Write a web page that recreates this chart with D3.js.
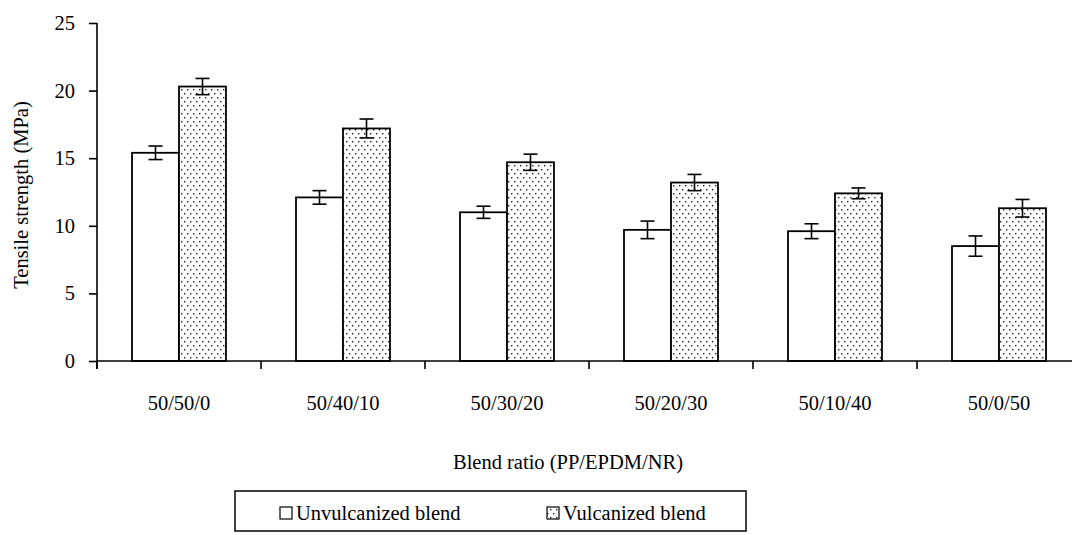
<!DOCTYPE html>
<html>
<head>
<meta charset="utf-8">
<script src="https://cdn.jsdelivr.net/npm/d3@7"></script>
<style>
  body { margin: 0; background: #fff; }
  text { font-family: "Liberation Serif", "Times New Roman", serif; fill: #000; }
</style>
</head>
<body>
<svg id="chart" width="1072" height="535"></svg>
<script>
const categories = ["50/50/0", "50/40/10", "50/30/20", "50/20/30", "50/10/40", "50/0/50"];
const seriesNames = ["Unvulcanized blend", "Vulcanized blend"];
const unvulcanized = [15.4, 12.1, 11.0, 9.7, 9.6, 8.5];
const unvulcanizedErr = [0.5, 0.5, 0.45, 0.65, 0.55, 0.75];
const vulcanized = [20.3, 17.2, 14.7, 13.2, 12.4, 11.3];
const vulcanizedErr = [0.6, 0.7, 0.6, 0.6, 0.4, 0.65];
const yTicks = [0, 5, 10, 15, 20, 25];

const svg = d3.select("#chart");

// left / right edge of plot, baseline and top
const X0 = 97, X1 = 1081, Y0 = 361, YT = 23;
const FS = 20.5;

const defs = svg.append("defs");
const pat = defs.append("pattern")
  .attr("id", "dots")
  .attr("patternUnits", "userSpaceOnUse")
  .attr("width", 6).attr("height", 8);
pat.append("rect").attr("width", 6).attr("height", 8).attr("fill", "#fff");
pat.append("rect").attr("x", 1).attr("y", 1).attr("width", 1.4).attr("height", 1.4).attr("fill", "#222");
pat.append("rect").attr("x", 4).attr("y", 5).attr("width", 1.4).attr("height", 1.4).attr("fill", "#222");

const y = d3.scaleLinear().domain([0, 25]).range([Y0, YT]);
const x = d3.scaleBand().domain(categories).range([X0, X1])
  .paddingInner(0.427).paddingOuter(0.2135);
const xs = d3.scaleBand().domain(seriesNames).range([0, x.bandwidth()]);

const data = categories.map((c, i) => [
  { cat: c, s: seriesNames[0], v: unvulcanized[i], e: unvulcanizedErr[i] },
  { cat: c, s: seriesNames[1], v: vulcanized[i], e: vulcanizedErr[i] }
]).flat();

// bars
svg.append("g").selectAll("rect")
  .data(data)
  .enter()
  .append("rect")
  .attr("x", d => x(d.cat) + xs(d.s))
  .attr("y", d => y(d.v))
  .attr("width", xs.bandwidth())
  .attr("height", d => y(0) - y(d.v))
  .attr("fill", d => d.s === seriesNames[0] ? "#fff" : "url(#dots)")
  .attr("stroke", "#000")
  .attr("stroke-width", 1.8);

// error bars
const eb = svg.append("g").attr("stroke", "#000").attr("stroke-width", 1.6);
data.forEach(d => {
  const cx = x(d.cat) + xs(d.s) + xs.bandwidth() / 2;
  eb.append("line").attr("x1", cx).attr("x2", cx).attr("y1", y(d.v + d.e)).attr("y2", y(d.v - d.e));
  eb.append("line").attr("x1", cx - 7).attr("x2", cx + 7).attr("y1", y(d.v + d.e)).attr("y2", y(d.v + d.e));
  eb.append("line").attr("x1", cx - 7).attr("x2", cx + 7).attr("y1", y(d.v - d.e)).attr("y2", y(d.v - d.e));
});

// y axis
const yAxis = svg.append("g")
  .attr("transform", `translate(${X0},0)`)
  .call(d3.axisLeft(y).tickValues(yTicks).tickSizeOuter(0).tickSize(8).tickPadding(14));
yAxis.select(".domain").attr("stroke-width", 1.6).attr("d", `M0,${YT}V${Y0 + 8}`);
yAxis.selectAll(".tick line").attr("stroke-width", 1.6);
yAxis.selectAll(".tick text").attr("font-size", FS).attr("font-family", "Liberation Serif");

// x axis
const xAxis = svg.append("g")
  .attr("transform", `translate(0,${Y0})`)
  .call(d3.axisBottom(x).tickSize(0).tickPadding(34));
xAxis.select(".domain").attr("stroke-width", 1.6).attr("d", `M${X0},0H${X1}`);
xAxis.selectAll(".tick text").attr("font-size", FS).attr("font-family", "Liberation Serif");
const bounds = d3.range(categories.length + 1).map(i => X0 + i * x.step());
xAxis.selectAll(".bound").data(bounds).enter().append("line")
  .attr("x1", d => d).attr("x2", d => d).attr("y1", 0).attr("y2", 8)
  .attr("stroke", "#000").attr("stroke-width", 1.6);

// axis titles
svg.append("text")
  .attr("transform", `translate(28,195) rotate(-90)`)
  .attr("text-anchor", "middle")
  .attr("font-size", FS)
  .text("Tensile strength (MPa)");
svg.append("text")
  .attr("x", 568).attr("y", 469)
  .attr("text-anchor", "middle")
  .attr("font-size", FS)
  .text("Blend ratio (PP/EPDM/NR)");

// legend
const lg = svg.append("g");
lg.append("rect").attr("x", 235).attr("y", 491).attr("width", 511).attr("height", 40)
  .attr("fill", "#fff").attr("stroke", "#000").attr("stroke-width", 1.5);
const lx = [280, 547];
seriesNames.forEach((s, i) => {
  lg.append("rect").attr("x", lx[i]).attr("y", 507).attr("width", 12).attr("height", 12)
    .attr("fill", i === 0 ? "#fff" : "url(#dots)").attr("stroke", "#000").attr("stroke-width", 1.2);
  lg.append("text").attr("x", lx[i] + 16).attr("y", 520).attr("font-size", FS).text(s);
});
</script>
</body>
</html>
